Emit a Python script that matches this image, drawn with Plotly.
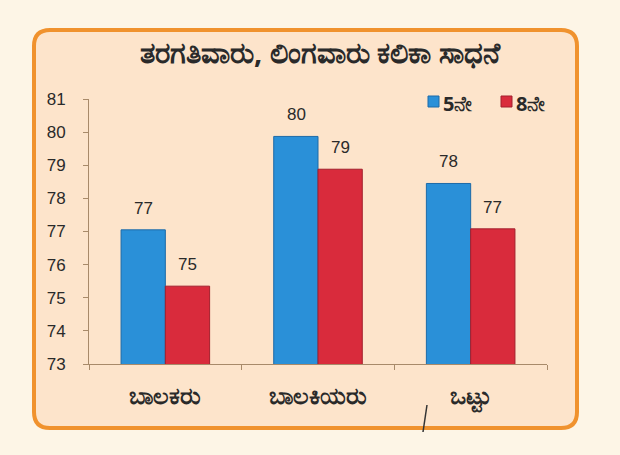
import plotly.graph_objects as go

categories = ["ಬಾಲಕರು", "ಬಾಲಕಿಯರು", "ಒಟ್ಟು"]
series_names = ["5ನೇ", "8ನೇ"]
grade5 = [77.05, 79.87, 78.45]
grade8 = [75.35, 78.88, 77.08]
labels5 = ["77", "80", "78"]
labels8 = ["75", "79", "77"]
colors = ["#2a90d8", "#d92b3c"]
edge_colors = ["#1d6aa8", "#a31f2c"]
title_text = "ತರಗತಿವಾರು, ಲಿಂಗವಾರು ಕಲಿಕಾ ಸಾಧನೆ"

W, H = 620, 455
L, R, T, B = 89, 547, 99, 364


def px(x):
    return (x - L) / (R - L)


def py(y):
    return (B - y) / (B - T)


fig = go.Figure()
for vals, name, col, ecol in zip([grade5, grade8], series_names, colors, edge_colors):
    fig.add_bar(x=categories, y=vals, name=name, marker_color=col,
                marker_line=dict(color=ecol, width=1), showlegend=False)

# data labels
for vals, labs, shift in [(grade5, labels5, -22), (grade8, labels8, 22)]:
    for c, v, t in zip(categories, vals, labs):
        fig.add_annotation(x=c, y=v, text=t, showarrow=False, xshift=shift,
                           yanchor="bottom", yshift=10,
                           font=dict(size=17, color="#2a2a2a", family="Liberation Sans"))

# rounded panel
x0, x1, y0, y1, r = px(34), px(577), py(428), py(30), 16
rx = r / (R - L)
ry = r / (B - T)
path = (f"M {x0+rx},{y1} L {x1-rx},{y1} Q {x1},{y1} {x1},{y1-ry} "
        f"L {x1},{y0+ry} Q {x1},{y0} {x1-rx},{y0} L {x0+rx},{y0} "
        f"Q {x0},{y0} {x0},{y0+ry} L {x0},{y1-ry} Q {x0},{y1} {x0+rx},{y1} Z")
fig.add_shape(type="path", path=path, xref="paper", yref="paper",
              fillcolor="#fde4cb", line=dict(color="#f0922e", width=4), layer="below")
# stray pen mark
fig.add_shape(type="line", xref="paper", yref="paper",
              x0=px(427), y0=py(405), x1=px(423), y1=py(432),
              line=dict(color="#333333", width=1.5))

# manual legend
for i, (name, col, ecol) in enumerate(zip(series_names, colors, edge_colors)):
    lx = 428 + i * 73
    fig.add_shape(type="rect", xref="paper", yref="paper",
                  x0=px(lx), x1=px(lx + 11), y0=py(107), y1=py(96),
                  fillcolor=col, line=dict(color=ecol, width=1))
    fig.add_annotation(xref="paper", yref="paper", x=px(lx + 13), y=py(103),
                       text=f"<b>{name}</b>", showarrow=False, xanchor="left", yanchor="middle",
                       font=dict(size=20, color="#2a2a2a", family="Noto Sans"))

fig.update_layout(
    width=W, height=H,
    margin=dict(l=L, r=W - R, t=T, b=H - B),
    paper_bgcolor="#fdf5e6", plot_bgcolor="rgba(0,0,0,0)",
    barmode="group", bargap=0.42, bargroupgap=0,
    title=dict(text=f"<b>{title_text}</b>", x=320 / W, xanchor="center",
               y=1 - 53 / H, yanchor="middle",
               font=dict(size=29, color="#2a2a2a", family="Noto Sans")),
    showlegend=False,
    font=dict(family="Liberation Sans"),
)
fig.update_yaxes(range=[73, 81], dtick=1, tick0=73, showgrid=False, zeroline=False,
                 showline=True, linecolor="#a88a6a", linewidth=1,
                 ticks="outside", ticklen=5, tickcolor="#a88a6a",
                 tickfont=dict(size=17, color="#2a2a2a", family="Liberation Sans"),
                 ticklabelstandoff=14)
fig.update_xaxes(showgrid=False, showline=True, linecolor="#a88a6a", linewidth=1,
                 ticks="outside", ticklen=5, tickcolor="#a88a6a", tickson="boundaries",
                 tickfont=dict(size=24, color="#2a2a2a", family="Noto Sans"),
                 ticklabelstandoff=10,
                 tickvals=categories, ticktext=[f"<b>{c}</b>" for c in categories])

fig.write_html("out.html")
